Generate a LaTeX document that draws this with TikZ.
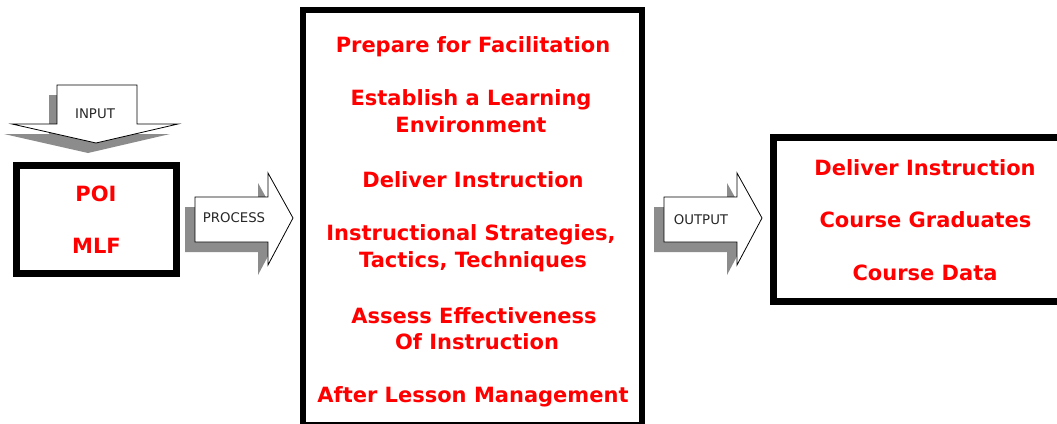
\documentclass[tikz,border=0pt]{standalone}
\usepackage{fontspec}
\setmainfont{DejaVu Sans}
\begin{document}
\begin{tikzpicture}[x=1pt,y=-1pt,
  frame/.style={draw=black,line width=#1,fill=white},
  item/.style={text=red,font=\fontsize{21}{21}\selectfont\bfseries,inner sep=0pt,anchor=base},
  tag/.style={font=\fontsize{13.3}{14}\selectfont,inner sep=0pt,text=black!85,anchor=base},
  shade/.style={fill=black!45,draw=none},
  flow/.style={fill=white,draw=black,line width=0.8pt}]
\useasboundingbox (0,0) rectangle (1057,423);
\fill[white] (0,0) rectangle (1057,423);

% ---- input arrow (downward) ----
\begin{scope}[shift={(-8,10)}]
  \fill[shade] (57,85) -- (137,85) -- (137,124) -- (178,124) -- (96,143) -- (12,124) -- (57,124) -- cycle;
\end{scope}
\draw[flow] (57,85) -- (137,85) -- (137,124) -- (178,124) -- (96,143) -- (12,124) -- (57,124) -- cycle;
\node[tag] (inlbl) at (95,118) {INPUT};

% ---- process arrow ----
\begin{scope}[shift={(-10,10)}]
  \fill[shade] (195,197) -- (268,197) -- (268,173) -- (293,218) -- (268,265) -- (268,242) -- (195,242) -- cycle;
\end{scope}
\draw[flow] (195,197) -- (268,197) -- (268,173) -- (293,218) -- (268,265) -- (268,242) -- (195,242) -- cycle;
\node[tag] (proclbl) at (234,222.5) {PROCESS};

% ---- output arrow ----
\begin{scope}[shift={(459,10)}]
  \fill[shade] (195,197) -- (268,197) -- (268,173) -- (293,218) -- (268,265) -- (268,242) -- (195,242) -- cycle;
\end{scope}
\begin{scope}[shift={(469,0)}]
  \draw[flow] (195,197) -- (268,197) -- (268,173) -- (293,218) -- (268,265) -- (268,242) -- (195,242) -- cycle;
\end{scope}
\node[tag] (outlbl) at (701,224.5) {OUTPUT};

% ---- input box ----
\draw[frame=7pt] (16.5,165) rectangle (176.5,273);
\node[item] (poi) at (96,201) {POI};
\node[item] (mlf) at (96.5,253) {MLF};

% ---- process box ----
\draw[frame=6pt] (303,10) rectangle (642,425);
\node[item] (p1) at (473,52) {Prepare for Facilitation};
\node[item] (p2a) at (471,105.5) {Establish a Learning};
\node[item] (p2b) at (471,132.5) {Environment};
\node[item] (p3) at (473,187) {Deliver Instruction};
\node[item] (p4a) at (471,240) {Instructional Strategies,};
\node[item] (p4b) at (473,267.5) {Tactics, Techniques};
\node[item] (p5a) at (474,323) {Assess Effectiveness};
\node[item] (p5b) at (477,349) {Of Instruction};
\node[item] (p6) at (473,402.5) {After Lesson Management};

% ---- output box ----
\draw[frame=7pt] (773.5,137.5) rectangle (1062,301.5);
\node[item] (o1) at (925,175) {Deliver Instruction};
\node[item] (o2) at (925.5,227) {Course Graduates};
\node[item] (o3) at (925,280) {Course Data};
\end{tikzpicture}
\end{document}
